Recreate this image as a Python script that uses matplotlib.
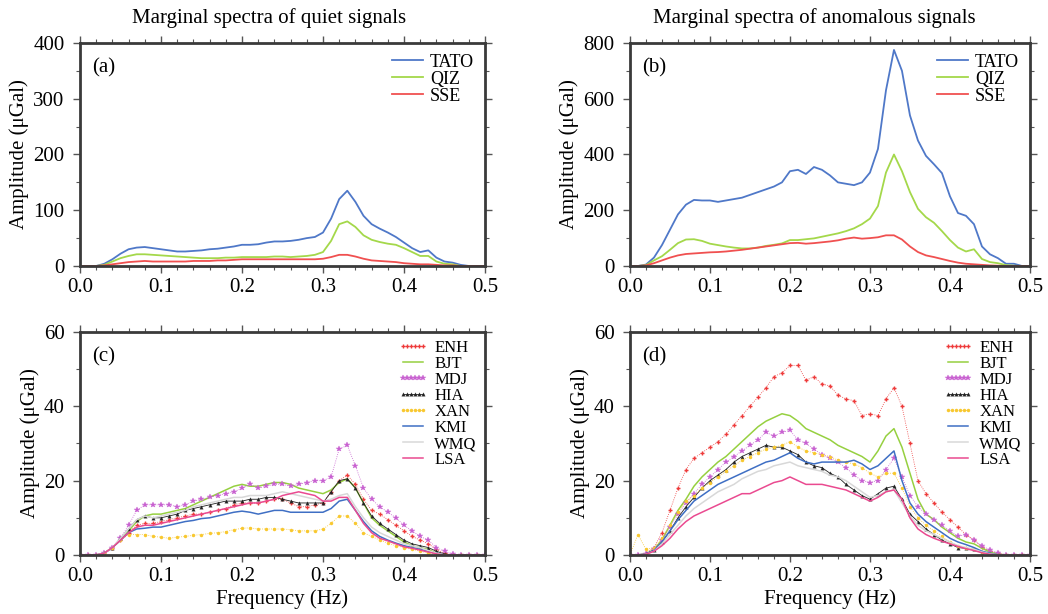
import numpy as np
import matplotlib
matplotlib.use('Agg')
import matplotlib.pyplot as plt
from matplotlib.ticker import MultipleLocator, FormatStrFormatter

plt.rcParams['font.family'] = ['Liberation Serif', 'DejaVu Serif']

# frequency grid (Hz)
freq = np.round(np.arange(51) * 0.01, 2)

# (a) quiet signals, uGal
tato_q = [0, 0, 0, 4, 12, 22, 30, 33, 34, 32,
          30, 28, 26, 26, 27, 28, 30, 31, 33, 35,
          38, 38, 39, 42, 44, 44, 45, 47, 50, 52,
          60, 85, 120, 135, 115, 90, 75, 67, 60, 52,
          42, 32, 25, 28, 15, 8, 6, 2, 0, 0,
          0]
qiz_q = [0, 0, 0, 2, 8, 14, 18, 21, 21, 20,
         19, 18, 17, 16, 15, 14, 14, 14, 15, 15,
         16, 16, 16, 16, 17, 17, 16, 17, 18, 20,
         25, 45, 75, 80, 70, 55, 47, 43, 40, 38,
         32, 25, 18, 18, 8, 4, 3, 0, 0, 0,
         0]
sse_q = [0, 0, 0, 1, 3, 5, 7, 8, 9, 8,
         8, 8, 8, 8, 9, 9, 9, 10, 10, 11,
         12, 12, 12, 12, 12, 12, 12, 12, 12, 12,
         13, 16, 20, 20, 17, 13, 10, 9, 8, 7,
         5, 4, 3, 3, 2, 1, 1, 0, 0, 0,
         0]

# (b) anomalous signals
tato_a = [0, 0, 5, 30, 75, 130, 185, 220, 237, 235,
          235, 230, 235, 240, 245, 255, 265, 275, 285, 300,
          340, 345, 330, 355, 345, 325, 300, 295, 290, 300,
          335, 420, 630, 775, 700, 540, 450, 395, 365, 333,
          250, 190, 180, 150, 70, 42, 28, 8, 8, 0,
          0]
qiz_a = [0, 0, 3, 20, 35, 58, 82, 95, 96, 90,
         80, 75, 70, 66, 63, 63, 66, 72, 76, 81,
         93, 93, 96, 99, 105, 111, 117, 125, 135, 150,
         170, 215, 335, 400, 340, 265, 205, 175, 155, 125,
         93, 66, 52, 60, 25, 14, 10, 3, 1, 0,
         0]
sse_a = [0, 0, 2, 10, 20, 30, 38, 43, 45, 47,
         49, 50, 52, 55, 58, 62, 66, 70, 74, 78,
         82, 83, 80, 82, 85, 88, 92, 98, 102, 98,
         100, 103, 110, 110, 95, 70, 50, 38, 32, 25,
         18, 12, 8, 6, 4, 2, 1, 0, 0, 0,
         0]

# (c) quiet signals, 8 stations
enh_q = [0, 0, 0, 0.5, 2, 4, 6, 8, 8.5, 8.5,
         9, 9.5, 10, 10.5, 11, 11, 11.5, 12, 12.5, 13.5,
         14, 14, 14, 14.5, 15, 15, 14, 13, 13, 13.5,
         14, 17, 20, 21.5, 19, 15, 12, 11, 9.5, 8,
         6.5, 5, 4, 3, 1.5, 0.5, 0, 0, 0, 0,
         0]
bjt_q = [0, 0, 0, 0.5, 2, 4, 6.5, 9, 10.5, 11,
         11, 11.5, 12, 12.5, 13.5, 14.5, 15.5, 16.5, 17.5, 18.5,
         19, 18.5, 18.5, 19, 19.5, 19.5, 19, 18, 17.5, 17,
         16.5, 17.5, 19.5, 20.5, 18, 14, 10, 8, 6.5, 5,
         3.5, 2.5, 2, 1.5, 0.5, 0, 0, 0, 0, 0,
         0]
mdj_q = [0, 0, 0, 0.5, 2, 4.5, 8, 12, 13.5, 13.5,
         13.5, 13.5, 13, 13.5, 14.5, 15, 15.5, 16, 16.5, 17,
         18, 19, 18, 18.5, 19, 19, 18.5, 19, 19.5, 20,
         20, 21, 28.5, 29.5, 24, 18, 15, 13, 11.5, 10,
         8, 6.5, 5, 4, 2, 1, 0.3, 0, 0, 0,
         0]
hia_q = [0, 0, 0, 0.5, 2, 4.5, 7, 9.5, 10.5, 10,
         10, 10.5, 11, 12, 12.5, 13, 13.5, 14, 14.5, 14.5,
         14.5, 15, 15, 15.5, 15.5, 15, 14.5, 14, 14, 14,
         14, 17, 20, 20.5, 18, 14, 10.5, 8.5, 7, 5.5,
         4, 3, 2.5, 2, 1, 0.3, 0, 0, 0, 0,
         0]
xan_q = [0, 0, 0, 0.5, 2, 4, 5.5, 5.5, 5.5, 5,
         4.8, 4.5, 4.8, 5, 5.3, 5.5, 5.8, 6, 6.3, 6.8,
         7.2, 7.3, 7, 7, 7, 7, 6.8, 6.5, 6.5, 6.5,
         7, 8.5, 10.5, 10.5, 8.5, 6, 5, 4, 3.2, 2.5,
         2, 1.5, 1, 0.5, 0.2, 0, 0, 0, 0, 0,
         0]
kmi_q = [0, 0, 0, 0.5, 2, 4, 6, 7, 7.2, 7.5,
         7.5, 8, 8.5, 9, 9.3, 9.8, 10, 10.5, 11, 11.5,
         11.8, 11.5, 11, 11.5, 12, 12, 11.5, 11.5, 11.5, 11.5,
         11.5, 12.5, 14.5, 15, 12, 9, 6.5, 5, 4, 3.2,
         2.5, 2, 1.5, 1, 0.5, 0, 0, 0, 0, 0,
         0]
wmq_q = [0, 0, 0, 0.5, 2, 4.5, 7, 9.5, 10.5, 10,
         10.5, 11, 11.5, 12, 13, 13.5, 14, 14.5, 15, 15.5,
         15.5, 16, 16, 16, 16.5, 17, 16.5, 16, 15.5, 15,
         14.5, 15, 16, 16.5, 13, 10, 7.5, 6, 5, 4,
         3, 2.5, 2, 1.2, 0.5, 0, 0, 0, 0, 0,
         0]
lsa_q = [0, 0, 0, 0.5, 2, 4, 6, 7.5, 8, 8,
         8.5, 9, 9.5, 10, 10.5, 11, 11.5, 12, 12.5, 13,
         13.5, 14, 14, 14.5, 15, 16, 16.5, 17, 16.5, 16,
         14.5, 14.5, 15.5, 15.5, 12, 8.5, 6, 4.5, 3.8, 3,
         2.2, 1.8, 1.3, 0.8, 0.3, 0, 0, 0, 0, 0,
         0]

# (d) anomalous signals, 8 stations
enh_a = [0, 0, 0.5, 2, 6, 12, 18, 23, 26, 27.5,
         29, 30.5, 32.5, 35, 37.5, 40, 42.5, 45, 48, 49,
         51, 51, 47, 48, 46, 45.5, 43, 42, 41.5, 37.5,
         38, 37.5, 42, 45, 40, 30, 20, 16.5, 14, 11.5,
         9.5, 7.5, 5.5, 4, 2.2, 1, 0.5, 0, 0, 0,
         0]
bjt_a = [0, 0, 0.3, 1.5, 4, 8, 12, 15, 18.5, 21,
         23, 25, 26.5, 28.5, 30.5, 32.5, 34.5, 36, 37, 38,
         37.5, 36, 34, 33, 32, 31, 29.5, 28.5, 27.5, 26.5,
         25, 28, 32, 34, 29, 22, 15, 11, 9.5, 7.5,
         6, 4.5, 3.5, 3, 1.8, 0.8, 0.2, 0, 0, 0,
         0]
mdj_a = [0, 0, 0.3, 1.5, 4, 7.5, 11, 14, 16.5, 19,
         21, 23, 25, 26.5, 28, 29.5, 31, 33, 32, 33,
         33.5, 31, 30, 28.5, 27, 26, 25, 23.5, 21.5, 20,
         19.5, 20, 23, 26, 21, 16, 13, 11, 9.5, 8,
         6.5, 5, 5.5, 4, 2.5, 1.3, 0.5, 0, 0, 0,
         0]
hia_a = [0, 0, 0.3, 1.3, 3.5, 6.5, 10, 13, 15.5, 18,
         20, 21.5, 23, 25, 26.5, 27.5, 28.5, 29.5, 29, 29,
         28, 27, 25, 24, 23.5, 22, 21, 19, 17.5, 16,
         15, 16.5, 18, 18.5, 15, 11, 9, 7, 5.5, 4,
         3, 2, 1.8, 1.5, 0.8, 0.3, 0, 0, 0, 0,
         0]
xan_a = [0, 5.5, 1.5, 2, 4.5, 8, 11.5, 14.5, 16, 18,
         19.5, 21, 22.5, 24, 25.5, 26.5, 27.5, 28.5, 29, 29.5,
         30.5, 29, 28, 27.5, 27, 26.5, 25.5, 25, 24.5, 23.5,
         22, 21, 22, 22, 18, 13, 10, 8, 6.5, 5,
         3.5, 2.5, 2, 1.5, 0.8, 0.3, 0, 0, 0, 0,
         0]
kmi_a = [0, 0, 0.3, 1.2, 3.5, 6.5, 9.5, 12, 14.5, 16,
         17.5, 19, 20, 21, 22, 23, 24, 25, 25.5, 26.5,
         27.5, 26, 25, 24.5, 25, 25, 25, 25, 25.5, 24.5,
         23, 24, 26, 28, 20, 14, 11, 9, 7.5, 6,
         4.5, 3.5, 2.8, 2, 1, 0.5, 0, 0, 0, 0,
         0]
wmq_a = [0, 0, 0.2, 1, 3, 5.5, 8, 10.5, 12.5, 14,
         15.5, 17, 18, 19, 20.5, 21.5, 22.5, 23, 24, 24.5,
         25, 24, 23.5, 23, 22.5, 21.5, 21, 20, 18.5, 17,
         15.5, 16, 17, 17.5, 14, 10.5, 8, 6.5, 5.5, 4.5,
         3.5, 2.5, 2, 1.5, 0.8, 0.3, 0, 0, 0, 0,
         0]
lsa_a = [0, 0, 0.2, 1, 2.5, 4.5, 7, 9, 10.5, 11.5,
         12.5, 13.5, 14.5, 15.5, 16.5, 16.5, 17.5, 18.5, 19.5, 20,
         21, 20, 19, 19, 19, 18.5, 18, 17.5, 16.5, 15.5,
         14.5, 15.5, 17, 17.5, 15, 10, 7, 5.5, 4.5, 3.7,
         3, 2.3, 1.7, 1.2, 0.6, 0.2, 0, 0, 0, 0,
         0]

stations_top = ['TATO', 'QIZ', 'SSE']
stations_bot = ['ENH', 'BJT', 'MDJ', 'HIA', 'XAN', 'KMI', 'WMQ', 'LSA']

# line styles per station
style = {
    'TATO': dict(color='#4f78c8', lw=1.3),
    'QIZ': dict(color='#a4d84a', lw=1.3),
    'SSE': dict(color='#f05050', lw=1.3),
    'ENH': dict(color='#ee3b3b', lw=0.6, ls=':', marker='+', ms=3.5, mew=1.0),
    'BJT': dict(color='#96d040', lw=1.1),
    'MDJ': dict(color='#c860d0', lw=0.6, ls=':', marker='*', ms=4.0, mew=0.3),
    'HIA': dict(color='#222222', lw=0.6, marker='^', ms=2.5, mew=0.2),
    'XAN': dict(color='#f8c830', lw=0.6, ls=':', marker='o', ms=2.5, mew=0),
    'KMI': dict(color='#3f6fc4', lw=1.1),
    'WMQ': dict(color='#d8d8d8', lw=1.1),
    'LSA': dict(color='#ea4a90', lw=1.1),
}

frame_col = '#3a3a3a'


def setup(ax, ymax, ymajor, yminor, letter):
    ax.set_xlim(0, 0.5)
    ax.set_ylim(0, ymax)
    ax.xaxis.set_major_locator(MultipleLocator(0.1))
    ax.xaxis.set_minor_locator(MultipleLocator(0.02))
    ax.yaxis.set_major_locator(MultipleLocator(ymajor))
    ax.yaxis.set_minor_locator(MultipleLocator(yminor))
    ax.xaxis.set_major_formatter(FormatStrFormatter('%.1f'))
    ax.tick_params(which='both', direction='out', top=True, right=True,
                   color='#555555', labelsize=15)
    ax.tick_params(axis='y', pad=6)
    ax.tick_params(axis='x', pad=4)
    ax.tick_params(which='major', length=5, width=1)
    ax.tick_params(which='minor', length=3, width=0.8)
    for s in ax.spines.values():
        s.set_linewidth(2)
        s.set_color(frame_col)
    ax.set_ylabel('Amplitude (\u03bcGal)', fontsize=15, labelpad=3)
    ax.text(0.03, 0.93, letter, transform=ax.transAxes, fontsize=15, va='top')


fig = plt.figure(figsize=(10.48, 6.14), dpi=100)
axa = fig.add_axes([0.0763, 0.5668, 0.3865, 0.3632])
axb = fig.add_axes([0.6011, 0.5668, 0.3817, 0.3632])
axc = fig.add_axes([0.0763, 0.0961, 0.3865, 0.3632])
axd = fig.add_axes([0.6011, 0.0961, 0.3817, 0.3632])

setup(axa, 400, 100, 50, '(a)')
setup(axb, 800, 200, 100, '(b)')
setup(axc, 60, 20, 10, '(c)')
setup(axd, 60, 20, 10, '(d)')

for name, y in zip(stations_top, [tato_q, qiz_q, sse_q]):
    axa.plot(freq, y, label=name, **style[name])
for name, y in zip(stations_top, [tato_a, qiz_a, sse_a]):
    axb.plot(freq, y, label=name, **style[name])

quiet_bot = [enh_q, bjt_q, mdj_q, hia_q, xan_q, kmi_q, wmq_q, lsa_q]
anom_bot = [enh_a, bjt_a, mdj_a, hia_a, xan_a, kmi_a, wmq_a, lsa_a]
for name, y in zip(stations_bot, quiet_bot):
    axc.plot(freq, y, label=name, **style[name])
for name, y in zip(stations_bot, anom_bot):
    axd.plot(freq, y, label=name, **style[name])

for ax in [axa, axb]:
    ax.legend(loc='upper right', frameon=False, fontsize=13, handlelength=1.7,
              handletextpad=0.4, labelspacing=0.0, borderaxespad=0.0,
              borderpad=0.6, markerscale=1)
for ax in [axc, axd]:
    ax.legend(loc='upper right', frameon=False, fontsize=12, handlelength=1.8,
              handletextpad=0.4, labelspacing=0.0, borderaxespad=0.0,
              borderpad=0.5, markerscale=1, numpoints=6)

axc.set_xlabel('Frequency (Hz)', fontsize=15, labelpad=2)
axd.set_xlabel('Frequency (Hz)', fontsize=15, labelpad=2)

fig.text(269 / 1048, 1 - 18 / 614, 'Marginal spectra of quiet signals',
         ha='center', va='center', fontsize=15)
fig.text(814 / 1048, 1 - 18 / 614, 'Marginal spectra of anomalous signals',
         ha='center', va='center', fontsize=15)

fig.savefig('out.png', dpi=100)
